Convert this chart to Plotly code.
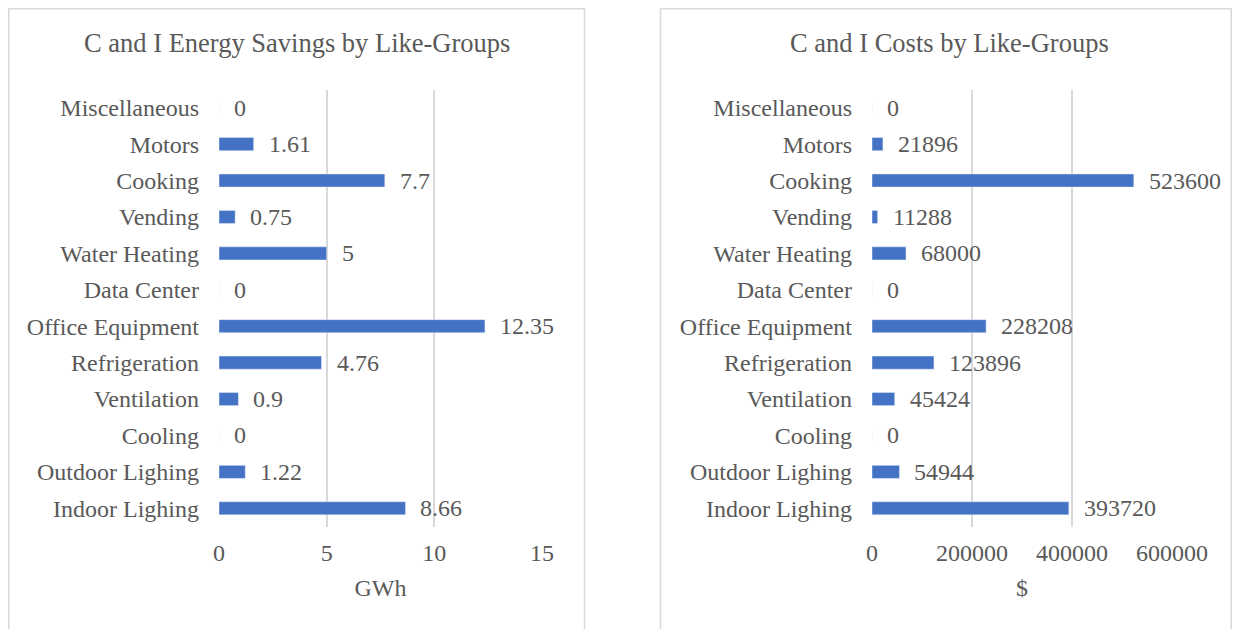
import plotly.graph_objects as go

categorias = [
    "Indoor Lighing", "Outdoor Lighing", "Cooling", "Ventilation",
    "Refrigeration", "Office Equipment", "Data Center", "Water Heating",
    "Vending", "Cooking", "Motors", "Miscellaneous",
]
economia_gwh = [8.66, 1.22, 0, 0.9, 4.76, 12.35, 0, 5, 0.75, 7.7, 1.61, 0]
custos_usd = [393720, 54944, 0, 45424, 123896, 228208, 0, 68000, 11288, 523600, 21896, 0]

AZUL = "#4472C4"
CINZA = "#595959"
GRADE = "#D9D9D9"
FONTE = "Liberation Serif, Times New Roman, serif"

# a pagina tem margem de 8px; a figura ocupa a janela menos essa margem
M = 8
W, H = 1240 - 2 * M, 637 - 2 * M


def px(x):
    return (x - M) / W


def py(y):
    return 1 - (y - M) / H


fig = go.Figure()

fig.add_trace(go.Bar(
    x=economia_gwh, y=categorias, orientation="h",
    marker_color=AZUL, xaxis="x", yaxis="y", showlegend=False,
))
fig.add_trace(go.Bar(
    x=custos_usd, y=categorias, orientation="h",
    marker_color=AZUL, xaxis="x2", yaxis="y2", showlegend=False,
))

# rotulos de dados
anotacoes = []
for cat, v in zip(categorias, economia_gwh):
    anotacoes.append(dict(
        x=v, y=cat, xref="x", yref="y", text=f"{v:g}", showarrow=False,
        xanchor="left", xshift=13, font=dict(size=24, color=CINZA, family=FONTE),
    ))
for cat, v in zip(categorias, custos_usd):
    anotacoes.append(dict(
        x=v, y=cat, xref="x2", yref="y2", text=f"{v}", showarrow=False,
        xanchor="left", xshift=13, font=dict(size=24, color=CINZA, family=FONTE),
    ))

# titulos
anotacoes.append(dict(
    x=px(296.5), y=py(43), xref="paper", yref="paper",
    text="C and I Energy Savings by Like-Groups", showarrow=False,
    xanchor="center", yanchor="middle", font=dict(size=26.5, color=CINZA, family=FONTE),
))
anotacoes.append(dict(
    x=px(949), y=py(43), xref="paper", yref="paper",
    text="C and I Costs by Like-Groups", showarrow=False,
    xanchor="center", yanchor="middle", font=dict(size=26.5, color=CINZA, family=FONTE),
))

eixo_x = dict(
    showgrid=True, gridcolor=GRADE, gridwidth=1.5, zeroline=False,
    showline=False, ticks="", ticklabelstandoff=9, automargin=False,
    tickfont=dict(size=24, color=CINZA, family=FONTE),
    title_font=dict(size=24, color=CINZA, family=FONTE), title_standoff=14,
)
eixo_y = dict(
    showgrid=False, zeroline=False, showline=False, ticks="", automargin=False,
    ticklabelstandoff=19, tickfont=dict(size=24, color=CINZA, family=FONTE),
    domain=[py(526.5), py(89.5)],
)

fig.update_layout(
    width=W, height=H,
    margin=dict(l=0, r=0, t=0, b=0),
    paper_bgcolor="white", plot_bgcolor="white",
    bargap=0.64,
    xaxis=dict(eixo_x, domain=[px(219), px(542)], range=[0, 15], dtick=5,
               title_text="GWh", anchor="y"),
    yaxis=dict(eixo_y, anchor="x"),
    xaxis2=dict(eixo_x, domain=[px(872), px(1172)], range=[0, 600000], dtick=200000,
                tickformat="d", title_text="$", anchor="y2"),
    yaxis2=dict(eixo_y, anchor="x2"),
    annotations=anotacoes,
    shapes=[
        dict(type="rect", xref="paper", yref="paper", x0=px(8.75), x1=px(584.5),
             y0=py(700), y1=py(8.75), line=dict(color=GRADE, width=1.5), layer="below"),
        dict(type="rect", xref="paper", yref="paper", x0=px(660.5), x1=px(1231.25),
             y0=py(700), y1=py(8.75), line=dict(color=GRADE, width=1.5), layer="below"),
    ],
)

fig.write_html("out.html")
